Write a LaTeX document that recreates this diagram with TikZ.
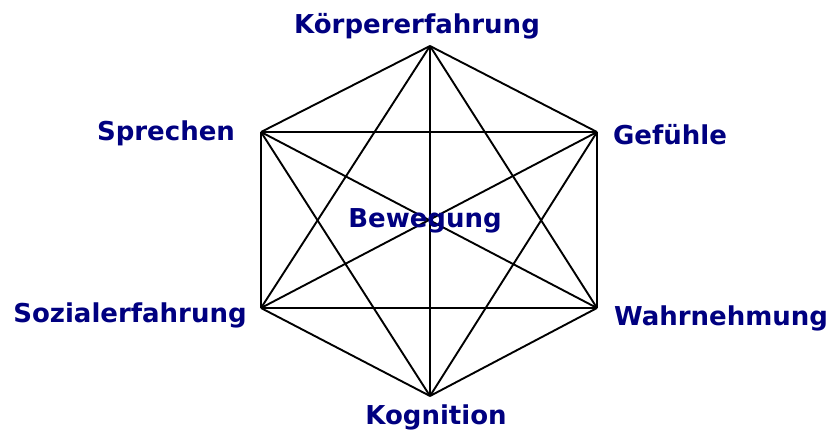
\documentclass[tikz,border=0pt]{standalone}
\usepackage{fontspec}
\setmainfont{DejaVu Sans}
\definecolor{lblblue}{HTML}{000080}
\begin{document}
\begin{tikzpicture}[x=1pt,y=-1pt,
  lbl/.style={text=lblblue,font=\fontsize{26}{30}\selectfont\bfseries,inner sep=0pt,anchor=base},
  edge/.style={draw=black,line width=1.9pt,line join=round}]
\useasboundingbox (0,0) rectangle (834,430);
\coordinate (T) at (430,46);
\coordinate (UR) at (597,132);
\coordinate (LR) at (597,308);
\coordinate (B) at (430,396);
\coordinate (LL) at (261,308);
\coordinate (UL) at (261,132);
\foreach \a/\b in {T/UR,T/LR,T/B,T/LL,T/UL,UR/LR,UR/B,UR/LL,UR/UL,LR/B,LR/LL,LR/UL,B/LL,B/UL,LL/UL}
  \draw[edge] (\a) -- (\b);
\node[lbl] (koerper) at (417,34) {Körpererfahrung};
\node[lbl] (sprechen) at (166,141) {Sprechen};
\node[lbl] (gefuehle) at (670,145) {Gefühle};
\node[lbl] (sozial) at (130,322) {Sozialerfahrung};
\node[lbl] (wahr) at (721,325) {Wahrnehmung};
\node[lbl] (kogn) at (436,424) {Kognition};
\node[lbl] (beweg) at (425,227) {Bewegung};
\end{tikzpicture}
\end{document}
